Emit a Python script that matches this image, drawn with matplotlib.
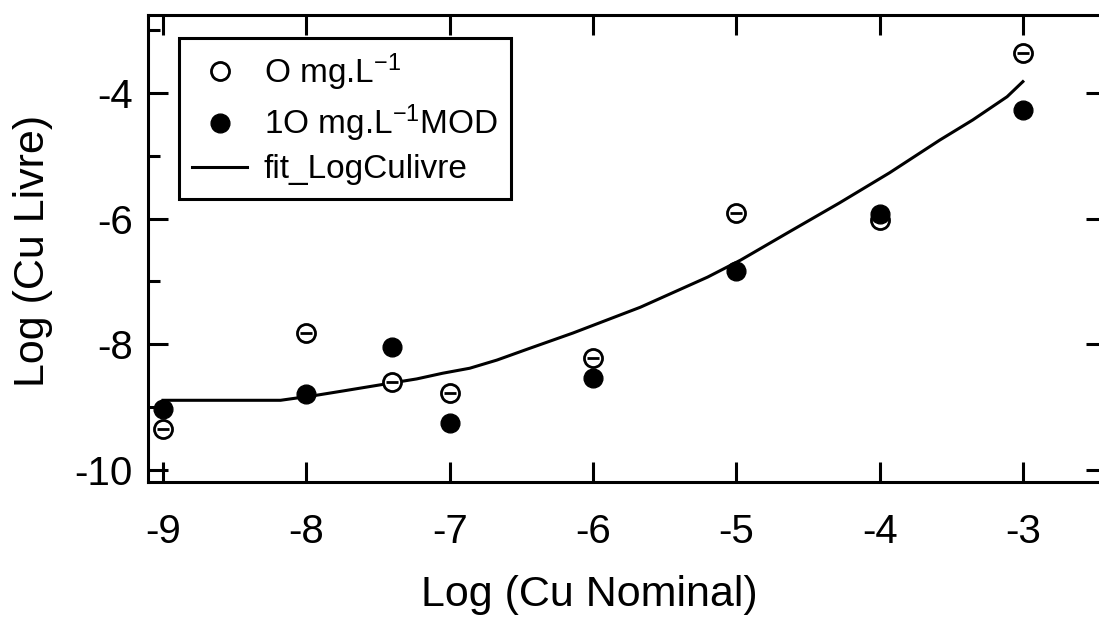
import numpy as np
import matplotlib
matplotlib.use('Agg')
import matplotlib.pyplot as plt
from matplotlib.ticker import FixedLocator

plt.rcParams['font.family'] = ['Liberation Sans', 'DejaVu Sans']
plt.rcParams['mathtext.fontset'] = 'custom'
plt.rcParams['mathtext.rm'] = 'Liberation Sans'
plt.rcParams['mathtext.default'] = 'regular'

# Données
log_cu_nominal = [-9, -8, -7.4, -7, -6, -5, -4, -3]
log_cu_0mg = [-9.35, -7.82, -8.60, -8.77, -8.22, -5.91, -6.02, -3.36]
log_cu_10mg = [-9.03, -8.79, -8.04, -9.25, -8.54, -6.83, -5.93, -4.27]

# Courbe d'ajustement
fit_x = [-9.0, -8.18, -7.93, -7.74, -7.58, -7.42, -7.23, -7.05, -6.86, -6.67,
         -6.45, -6.14, -5.67, -5.20, -4.97, -4.63, -4.28, -3.93, -3.58, -3.35,
         -3.11, -3.0]
fit_y = [-8.89, -8.89, -8.81, -8.74, -8.68, -8.62, -8.55, -8.46, -8.38, -8.25,
         -8.07, -7.82, -7.41, -6.93, -6.66, -6.21, -5.75, -5.27, -4.75, -4.43,
         -4.06, -3.82]

x_ticks = [-9, -8, -7, -6, -5, -4, -3]
y_ticks = [-10, -8, -6, -4]
y_minor = [-9, -7, -5, -3]

fig = plt.figure(figsize=(10.99, 6.33), dpi=100)
ax = fig.add_axes([148 / 1099, 1 - 482 / 633, 958 / 1099, 467 / 633])

lw = 2.2
ax.plot(log_cu_nominal, log_cu_0mg, 'o', ms=13, mfc='white', mec='black', mew=2,
        label=r'O mg.L$^{-1}$', zorder=3)
ax.plot(log_cu_nominal, log_cu_0mg, '_', ms=9, mec='black', mew=2, zorder=3.5)
ax.plot(log_cu_nominal, log_cu_10mg, 'o', ms=13.5, mfc='black', mec='black',
        label=r'1O mg.L$^{-1}$MOD', zorder=4)
ax.plot(fit_x, fit_y, '-', color='black', lw=lw, label='fit_LogCulivre', zorder=2)

ax.set_xlim(-9.105, -2.42)
ax.set_ylim(-10.19, -2.76)

ax.xaxis.set_major_locator(FixedLocator(x_ticks))
ax.yaxis.set_major_locator(FixedLocator(y_ticks))
ax.yaxis.set_minor_locator(FixedLocator(y_minor))
ax.set_xticklabels([str(v) for v in x_ticks])
ax.set_yticklabels([str(v) for v in y_ticks])

ax.tick_params(axis='x', which='major', direction='in', length=14.5, width=lw,
               top=True, bottom=True, labelsize=29, pad=22)
ax.tick_params(axis='y', which='major', direction='in', length=14.5, width=lw,
               left=True, right=True, labelsize=29, pad=11)
ax.tick_params(axis='y', which='minor', direction='in', length=8.5, width=lw,
               left=True, right=False)
ax.tick_params(axis='x', which='minor', bottom=False, top=False)

for s in ax.spines.values():
    s.set_linewidth(lw)

ax.set_xlabel('Log (Cu Nominal)', fontsize=31)
ax.set_ylabel('Log (Cu Livre)', fontsize=31)
ax.xaxis.set_label_coords(0.461, -0.2)
ax.yaxis.set_label_coords(-0.099, 0.495)

leg = ax.legend(loc='upper left', bbox_to_anchor=(179 / 1099, 1 - 38 / 633),
                bbox_transform=fig.transFigure, borderaxespad=0, fontsize=24,
                fancybox=False, framealpha=1, edgecolor='black',
                handlelength=1.65, handletextpad=0.5, labelspacing=0.3,
                borderpad=0.4)
leg.get_frame().set_linewidth(lw)

fig.savefig('out.png', dpi=100)
